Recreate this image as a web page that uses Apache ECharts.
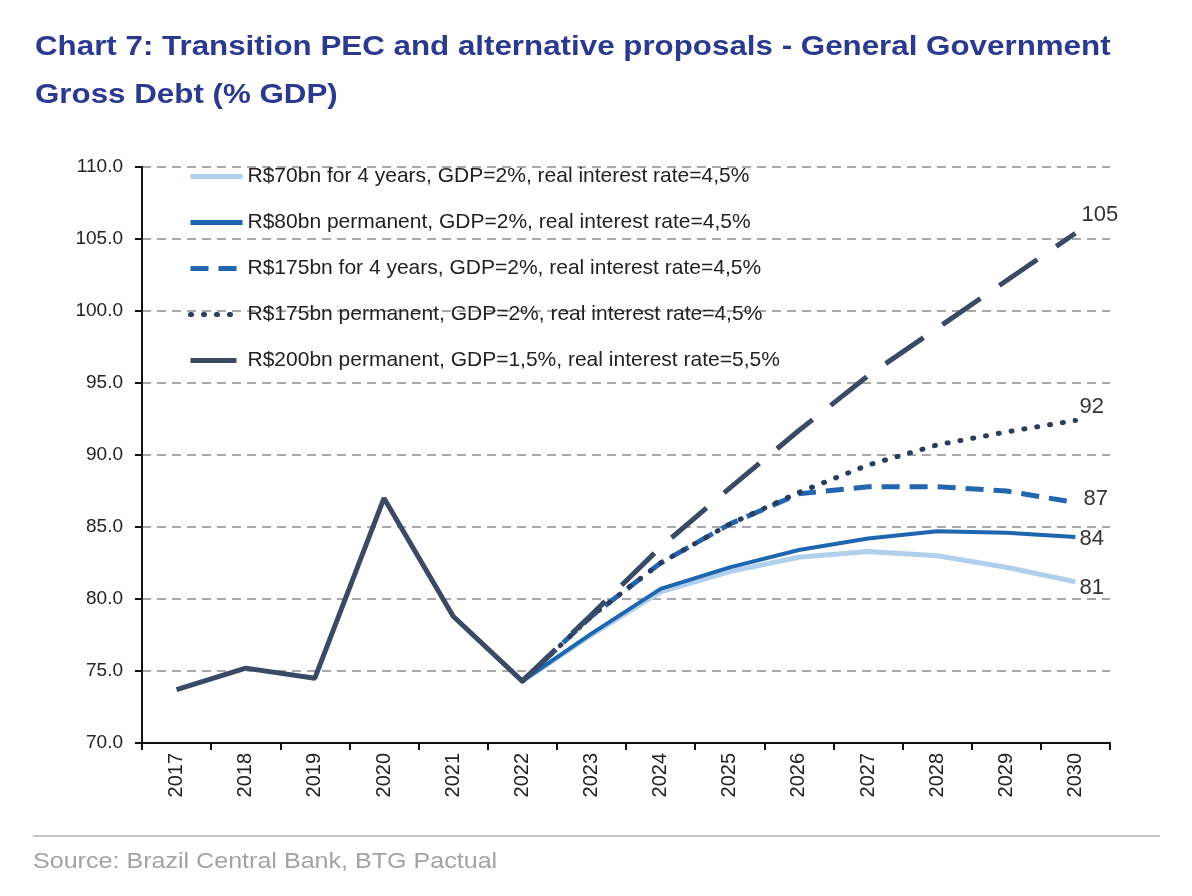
<!DOCTYPE html>
<html>
<head>
<meta charset="utf-8">
<script src="https://cdn.jsdelivr.net/npm/echarts@6/dist/echarts.min.js"></script>
<style>
  html, body { margin: 0; padding: 0; background: #fff; }
  #chart { width: 1192px; height: 896px; }
</style>
</head>
<body>
<div id="chart"></div>
<script>
// Years on the x axis
var years = ['2017', '2018', '2019', '2020', '2021', '2022', '2023',
             '2024', '2025', '2026', '2027', '2028', '2029', '2030'];

// Observed debt up to 2022 (% GDP)
var observed = [73.7, 75.2, 74.5, 87.0, 78.8, 74.3,
                null, null, null, null, null, null, null, null];

// Scenarios, starting from the 2022 value
var r70_4y    = [null, null, null, null, null, 74.3, 77.5, 80.5, 81.9, 82.9, 83.3, 83.0, 82.2, 81.2];
var r80_perm  = [null, null, null, null, null, 74.3, 77.6, 80.7, 82.2, 83.4, 84.2, 84.7, 84.6, 84.3];
var r175_4y   = [null, null, null, null, null, 74.3, 78.8, 82.5, 85.2, 87.3, 87.8, 87.8, 87.5, 86.7];
var r175_perm = [null, null, null, null, null, 74.3, 78.8, 82.5, 85.2, 87.4, 89.3, 90.7, 91.6, 92.4];
var r200_perm = [null, null, null, null, null, 74.3, 78.9, 83.6, 87.7, 91.7, 95.5, 98.8, 102.1, 105.4];

var names = [
  'R$70bn for 4 years, GDP=2%, real interest rate=4,5%',
  'R$80bn permanent, GDP=2%, real interest rate=4,5%',
  'R$175bn for 4 years, GDP=2%, real interest rate=4,5%',
  'R$175bn permanent, GDP=2%, real interest rate=4,5%',
  'R$200bn permanent, GDP=1,5%, real interest rate=5,5%'
];

var font = '"Liberation Sans", Arial, sans-serif';
var navy = '#3b4a64';

function endLabel(offset) {
  return {
    show: true,
    formatter: function (p) { return Math.round(p.value); },
    fontFamily: font,
    fontSize: 22,
    color: '#333',
    distance: 4,
    offset: offset
  };
}

var chart = echarts.init(document.getElementById('chart'));

var option = {
  animation: false,
  // title and source drawn as text, a bit wider than the font to match the picture
  graphic: [
    {
      type: 'text', x: 35, y: 34, scaleX: 1.16,
      style: {
        text: 'Chart 7: Transition PEC and alternative proposals - General Government',
        font: 'bold 27px ' + font, fill: '#2b3a8e', verticalAlign: 'top'
      }
    },
    {
      type: 'text', x: 35, y: 82, scaleX: 1.16,
      style: {
        text: 'Gross Debt (% GDP)',
        font: 'bold 27px ' + font, fill: '#2b3a8e', verticalAlign: 'top'
      }
    },
    {
      type: 'line',
      shape: { x1: 33, y1: 836, x2: 1160, y2: 836 },
      style: { stroke: '#c4c4c4', lineWidth: 2 }
    },
    {
      type: 'text', x: 33, y: 851, scaleX: 1.14,
      style: {
        text: 'Source: Brazil Central Bank, BTG Pactual',
        font: '22px ' + font, fill: '#a3a3a3', verticalAlign: 'top'
      }
    }
  ],
  legend: {
    data: names,
    orient: 'vertical',
    left: 183,
    top: 161,
    itemWidth: 52,
    itemHeight: 14,
    itemGap: 25,
    itemStyle: { opacity: 0, borderWidth: 0 },
    lineStyle: { width: 5 },
    textStyle: {
      fontFamily: font,
      fontSize: 21,
      color: '#222'
    }
  },
  grid: {
    left: 142,
    right: 82,
    top: 167,
    bottom: 153
  },
  xAxis: {
    type: 'category',
    data: years,
    boundaryGap: true,
    axisLine: { lineStyle: { color: '#111', width: 2 } },
    axisTick: { show: true, length: 7, lineStyle: { color: '#111', width: 2 } },
    axisLabel: {
      rotate: 90,
      margin: 10,
      fontFamily: font,
      fontSize: 20,
      color: '#222'
    },
    splitLine: { show: false }
  },
  yAxis: {
    type: 'value',
    min: 70,
    max: 110,
    interval: 5,
    axisLine: { show: true, lineStyle: { color: '#111', width: 2 } },
    axisTick: { show: true, length: 7, lineStyle: { color: '#111', width: 2 } },
    axisLabel: {
      formatter: function (v) { return v.toFixed(1); },
      margin: 19,
      fontFamily: font,
      fontSize: 19,
      color: '#222'
    },
    splitLine: {
      show: true,
      lineStyle: { color: '#a8a8a8', width: 2, type: [9, 6] }
    }
  },
  series: [
    {
      name: 'observed',
      type: 'line',
      data: observed,
      symbol: 'none',
      z: 5,
      lineStyle: { color: navy, width: 5 }
    },
    {
      name: names[0],
      type: 'line',
      data: r70_4y,
      symbol: 'none',
      color: '#b0cfec',
      lineStyle: { color: '#b0cfec', width: 5 },
      endLabel: endLabel([0, 6])
    },
    {
      name: names[1],
      type: 'line',
      data: r80_perm,
      symbol: 'none',
      color: '#1f66b0',
      lineStyle: { color: '#1f66b0', width: 4 },
      endLabel: endLabel([0, 2])
    },
    {
      name: names[2],
      type: 'line',
      data: r175_4y,
      symbol: 'none',
      color: '#2266b0',
      lineStyle: { color: '#2266b0', width: 5, type: [18, 10] },
      endLabel: endLabel([4, -4])
    },
    {
      name: names[3],
      type: 'line',
      data: r175_perm,
      symbol: 'none',
      color: '#2c3c5c',
      lineStyle: { color: '#2c3c5c', width: 5, type: [1, 12], cap: 'round' },
      endLabel: endLabel([0, -14])
    },
    {
      name: names[4],
      type: 'line',
      data: r200_perm,
      symbol: 'none',
      z: 4,
      color: navy,
      lineStyle: { color: navy, width: 5, type: [46, 23] },
      endLabel: endLabel([2, -18])
    }
  ]
};

chart.setOption(option);
</script>
</body>
</html>
